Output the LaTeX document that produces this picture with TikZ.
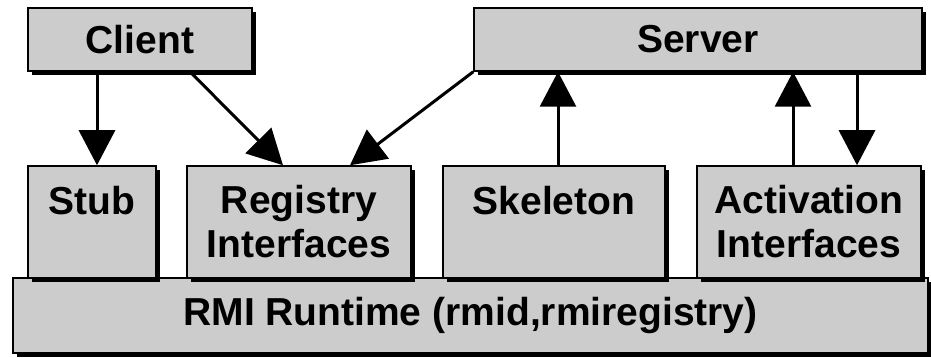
\documentclass[tikz,border=0pt]{standalone}
\usepackage{fontspec}
\setmainfont{Liberation Sans}
\usetikzlibrary{arrows.meta,shadows}
\definecolor{boxgray}{HTML}{CCCCCC}
\tikzset{
  box/.style={draw=black, line width=1.5pt, fill=boxgray, rectangle, inner sep=0pt,
    align=center, font=\fontsize{39}{44}\selectfont\bfseries,
    general shadow={fill=black, shadow xshift=4pt, shadow yshift=-4pt}},
  arr/.style={line width=3pt, -{Triangle[length=35pt,width=36pt]}}
}
\begin{document}
\begin{tikzpicture}[x=1pt,y=-1pt]
\useasboundingbox (0,0) rectangle (931,358);
\node[box, minimum width=915pt, minimum height=75pt] (rmi) at (470.5,315.5) {RMI Runtime (rmid,rmiregistry)};
\node[box, minimum width=224pt, minimum height=63pt] (client) at (140,39.5) {Client};
\node[box, minimum width=448pt, minimum height=63pt] (server) at (698,39.5) {Server};
\node[box, minimum width=128pt, minimum height=112pt] (stub) at (92,222) {Stub\\\phantom{I}};
\node[box, minimum width=224pt, minimum height=112pt] (reg) at (299,222) {Registry\\Interfaces};
\node[box, minimum width=222pt, minimum height=112pt] (skel) at (554,222) {Skeleton\\\phantom{I}};
\node[box, minimum width=224pt, minimum height=112pt] (act) at (809,222) {Activation\\Interfaces};
\draw[arr] ([xshift=-43pt]client.south) -- ([xshift=5pt]stub.north);
\draw[arr] ([xshift=50pt]client.south) -- ([xshift=-16pt]reg.north);
\draw[arr] (server.south west) -- ([xshift=51pt]reg.north);
\draw[arr] ([xshift=4pt]skel.north) -- ([xshift=-140pt]server.south);
\draw[arr] ([xshift=-16pt]act.north) -- ([xshift=95pt]server.south);
\draw[arr] ([xshift=159pt]server.south) -- ([xshift=48pt]act.north);
\end{tikzpicture}
\end{document}
